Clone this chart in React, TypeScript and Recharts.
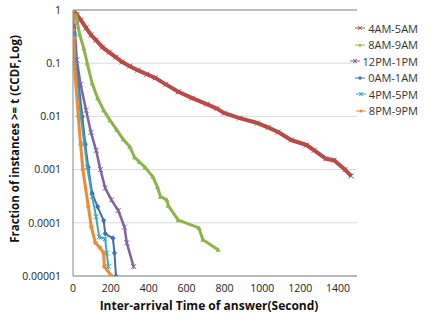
import { LineChart, Line, XAxis, YAxis, CartesianGrid, Legend, ReferenceLine } from 'recharts';

// inter-arrival time (s) and CCDF value
const red4am = [
  [0, 1], [20, 0.82], [41, 0.65], [69, 0.46], [95, 0.34], [122, 0.27], [155, 0.2],
  [191, 0.16], [225, 0.13], [260, 0.105], [300, 0.088], [341, 0.074], [390, 0.062],
  [434, 0.053], [490, 0.04], [556, 0.029], [630, 0.022], [706, 0.017], [760, 0.014],
  [799, 0.0115], [880, 0.0093], [974, 0.0075], [1030, 0.0062], [1083, 0.0051],
  [1152, 0.0036], [1233, 0.0029], [1274, 0.0023], [1335, 0.0016], [1379, 0.0015],
  [1436, 0.001], [1469, 0.00076],
];
const green8am = [
  [0, 1], [16, 0.8], [35, 0.35], [57, 0.19], [75, 0.1], [101, 0.042], [130, 0.022],
  [162, 0.013], [195, 0.0085], [231, 0.0056], [265, 0.0037], [300, 0.0027], [325, 0.0017],
  [350, 0.0014], [381, 0.0011], [422, 0.00073], [446, 0.00047], [462, 0.00031],
  [495, 0.00027], [503, 0.00021], [556, 0.000112], [665, 0.00008], [686, 0.000048],
  [767, 0.000031],
];
const purple12pm = [
  [0, 1], [8, 0.5], [20, 0.115], [40, 0.04], [69, 0.013], [95, 0.005], [122, 0.0023],
  [145, 0.001], [170, 0.00045], [203, 0.00027], [239, 0.00017], [272, 0.000083],
  [284, 0.000042], [320, 0.000015],
];
const blue0am = [
  [0, 1], [8, 0.35], [20, 0.085], [49, 0.01], [65, 0.003], [81, 0.0011], [101, 0.00036],
  [130, 0.0002], [162, 0.00011], [170, 0.000063], [211, 0.000051], [219, 0.000027],
  [227, 0.00001],
];
const cyan4pm = [
  [0, 1], [7, 0.35], [16, 0.085], [41, 0.01], [60, 0.003], [75, 0.0011], [101, 0.00031],
  [122, 0.00013], [138, 0.000054], [170, 0.00005], [178, 0.000027], [187, 0.000015],
];
const orange8pm = [
  [0, 1], [4, 0.3], [8, 0.085], [28, 0.01], [40, 0.003], [52, 0.001], [81, 0.0002],
  [97, 0.000083], [118, 0.000042], [142, 0.000034], [162, 0.000027], [166, 0.000015],
  [203, 0.00001],
];

const xTicks = [0, 200, 400, 600, 800, 1000, 1200, 1400];
const yTicks = [0.00001, 0.0001, 0.001, 0.01, 0.1, 1];

const series = [
  { name: '4AM-5AM', color: '#B94A48', marker: 'x', width: 4, pts: red4am },
  { name: '8AM-9AM', color: '#8DB448', marker: 'tri', width: 3, pts: green8am },
  { name: '12PM-1PM', color: '#7F63A1', marker: 'star', width: 2.5, pts: purple12pm },
  { name: '0AM-1AM', color: '#3F6FAE', marker: 'diamond', width: 2, pts: blue0am },
  { name: '4PM-5PM', color: '#3EA5C2', marker: 'star', width: 2, pts: cyan4pm },
  { name: '8PM-9PM', color: '#EF8A34', marker: 'circle', width: 3, pts: orange8pm },
];

const FONT = 'Open Sans, sans-serif';

function Marker({ cx, cy, kind, color, s = 2.5 }: any) {
  if (cx == null || cy == null) return null;
  if (kind === 'circle') return <circle cx={cx} cy={cy} r={s * 0.85} fill={color} />;
  if (kind === 'diamond')
    return <path d={`M${cx},${cy - s - 0.5}L${cx + s},${cy}L${cx},${cy + s + 0.5}L${cx - s},${cy}Z`} fill={color} />;
  if (kind === 'tri')
    return <path d={`M${cx},${cy - s}L${cx + s},${cy + s * 0.8}L${cx - s},${cy + s * 0.8}Z`} fill={color} />;
  if (kind === 'star')
    return (
      <path
        d={`M${cx - s},${cy - s}L${cx + s},${cy + s}M${cx - s},${cy + s}L${cx + s},${cy - s}M${cx},${cy - s}L${cx},${cy + s}`}
        stroke={color}
        strokeWidth={1}
      />
    );
  return (
    <path d={`M${cx - s},${cy - s}L${cx + s},${cy + s}M${cx - s},${cy + s}L${cx + s},${cy - s}`} stroke={color} strokeWidth={1} />
  );
}

function LegendBox() {
  return (
    <div style={{ fontFamily: FONT, fontSize: 11, color: '#333' }}>
      {series.map((s) => (
        <div key={s.name} style={{ display: 'flex', justifyContent: 'flex-end', alignItems: 'center', height: 16.5 }}>
          <svg width={12} height={8} style={{ marginRight: 2 }}>
            <line x1={1} y1={4} x2={11} y2={4} stroke={s.color} strokeWidth={1} />
            <Marker cx={6} cy={4} kind={s.marker} color={s.color} s={1.8} />
          </svg>
          <span>{s.name}</span>
        </div>
      ))}
    </div>
  );
}

export default function App() {
  return (
    <div style={{ position: 'absolute', left: 0, top: 0, width: 435, height: 314, overflow: 'hidden', background: '#fff' }}>
      <LineChart width={445} height={314} margin={{ top: 10, right: 0, bottom: 0, left: 0 }} style={{ fontFamily: FONT }}>
        <CartesianGrid horizontal vertical={false} stroke="#d9d9d9" />
        <ReferenceLine y={1} stroke="#8c8c8c" />
        <XAxis
          type="number"
          dataKey="t"
          domain={[0, 1500]}
          ticks={xTicks}
          allowDataOverflow
          height={38}
          tickLine={false}
          axisLine={{ stroke: '#868686' }}
          tick={{ fontSize: 10.5, fill: '#222' }}
          tickMargin={3}
          label={{
            value: 'Inter-arrival Time of answer(Second)',
            position: 'insideBottom',
            offset: 4,
            style: { fontSize: 12, fontWeight: 700, fill: '#111' },
            dx: -6,
          }}
        />
        <YAxis
          type="number"
          dataKey="p"
          scale="log"
          domain={[0.00001, 1]}
          ticks={yTicks}
          allowDataOverflow
          width={73}
          tickLine={false}
          axisLine={{ stroke: '#868686' }}
          tick={{ fontSize: 10.5, fill: '#222' }}
          tickMargin={6}
          tickFormatter={(v: number) => String(v)}
          label={{
            value: 'Fraction of instances >= t (CCDF,Log)',
            angle: -90,
            position: 'center',
            dx: -22,
            dy: -4,
            style: { fontSize: 11.5, fontWeight: 700, fill: '#111', textAnchor: 'middle' },
          }}
        />
        <Legend
          verticalAlign="top"
          align="right"
          layout="vertical"
          wrapperStyle={{ position: 'absolute', top: 20, left: 330, width: 88 }}
          content={() => <LegendBox />}
        />
        {series.map((s) => (
          <Line
            key={s.name}
            name={s.name}
            data={s.pts.map(([t, p]) => ({ t, p }))}
            dataKey="p"
            stroke={s.color}
            strokeWidth={s.width}
            strokeLinejoin="round"
            isAnimationActive={false}
            dot={(props: any) => <Marker key={`${s.name}-${props.index}`} cx={props.cx} cy={props.cy} kind={s.marker} color={s.color} />}
            activeDot={false}
          />
        ))}
      </LineChart>
    </div>
  );
}
